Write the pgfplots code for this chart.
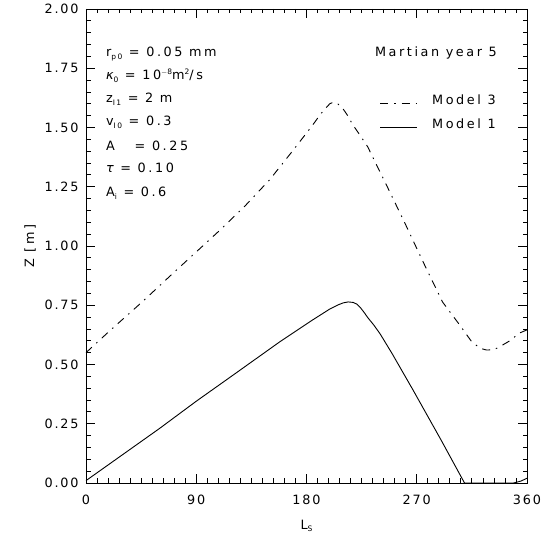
\documentclass[border=0pt]{standalone}
\usepackage{fontspec}
\setmainfont{DejaVu Sans}[LetterSpace=14]
\newfontfamily\txt{DejaVu Sans}[LetterSpace=20]
\usepackage{pgfplots}
\pgfplotsset{compat=1.18}
\newcommand{\sub}[1]{\raisebox{-0.35ex}{\fontsize{7.5}{8}\selectfont #1}}
\newcommand{\sups}[1]{\raisebox{0.75ex}{\fontsize{7.5}{8}\selectfont #1}}
\pgfplotstableread{
Ls Z
0 0.55
20 0.645
45 0.76
70 0.88
90 0.975
110 1.07
130 1.17
150 1.28
170 1.41
185 1.51
191 1.553
195 1.578
199 1.600
202 1.607
205 1.602
209 1.585
213 1.555
218 1.51
224 1.465
230 1.418
245 1.26
260 1.10
275 0.935
291 0.764
305 0.667
315 0.595
322 0.568
327 0.561
332 0.562
336 0.57
345 0.597
354 0.633
360 0.646
}\modelthree
\pgfplotstableread{
Ls Z
0 0.01
30 0.12
60 0.23
90 0.345
120 0.455
158 0.595
185 0.688
199 0.734
206 0.752
210 0.760
214 0.764
218 0.762
221 0.755
224 0.740
227 0.720
230 0.698
235 0.666
240 0.630
250 0.545
267 0.392
290 0.18
309 0.0
349 0.0
355 0.008
360 0.02
}\modelone
\begin{document}
\fontsize{12.8}{15}\selectfont
\begin{tikzpicture}[txtnode/.style={anchor=base west, inner sep=0pt, font=\txt\fontsize{12.8}{15}\selectfont}]
\begin{axis}[
  scale only axis, width=441pt, height=474pt,
  xmin=0, xmax=360, ymin=0, ymax=2,
  xtick={0,90,180,270,360},
  ytick={0,0.25,0.5,0.75,1,1.25,1.5,1.75,2},
  minor x tick num=9, minor y tick num=4,
  tick align=inside,
  major tick length=9pt, minor tick length=4.5pt,
  every tick/.style={black, line width=0.8pt},
  axis line style={line width=0.9pt},
  /pgf/number format/assume math mode=true,
  ticklabel style={font=\fontsize{12.8}{15}\selectfont},
  yticklabel style={/pgf/number format/fixed, /pgf/number format/fixed zerofill, /pgf/number format/precision=2, xshift=-3pt},
  xticklabel style={yshift=-8pt},
  every axis y label/.style={at={(axis description cs:0,0.5)}, xshift=-56pt, rotate=90, anchor=center, font=\txt\fontsize{12.8}{15}\selectfont},
  every axis x label/.style={at={(axis description cs:0.5,0)}, yshift=-43pt, anchor=center, font=\txt\fontsize{12.8}{15}\selectfont},
  xlabel={L\sub{S}},
  ylabel={Z [m]},
  clip=true,
]
\addplot[black, line width=0.9pt, dash pattern=on 8pt off 6pt on 1.5pt off 6pt] table[x=Ls, y=Z] {\modelthree};
\addplot[black, line width=0.9pt] table[x=Ls, y=Z] {\modelone};

\node[txtnode] at (rel axis cs:0.045,0.8994) {r\sub{p0} = 0.05 mm};
\node[txtnode] at (rel axis cs:0.045,0.8502) {\itshape κ\upshape\sub{0} = 10\sups{$-$8}m\sups{2}/s};
\node[txtnode] at (rel axis cs:0.045,0.8017) {z\sub{I1} = 2 m};
\node[txtnode] at (rel axis cs:0.045,0.7532) {v\sub{I0} = 0.3};
\node[txtnode] at (rel axis cs:0.045,0.7025) {A~~ = 0.25};
\node[txtnode] at (rel axis cs:0.045,0.6540) {\itshape τ\upshape{} = 0.10};
\node[txtnode] at (rel axis cs:0.045,0.6034) {A\sub{i} = 0.6};

\node[txtnode, anchor=base east] at (rel axis cs:0.932,0.9008) {Martian year 5};
\draw[black, line width=0.9pt, dash pattern=on 8pt off 6pt on 1.5pt off 6pt] (rel axis cs:0.6667,0.8017) -- (rel axis cs:0.7506,0.8017);
\draw[black, line width=0.9pt] (rel axis cs:0.6667,0.7511) -- (rel axis cs:0.7506,0.7511);
\node[txtnode] at (rel axis cs:0.7846,0.7975) {Model 3};
\node[txtnode] at (rel axis cs:0.7846,0.7489) {Model 1};
\end{axis}
\pgfresetboundingbox
\path (-86pt,-54pt) rectangle (462pt,483pt);
\end{tikzpicture}
\end{document}
